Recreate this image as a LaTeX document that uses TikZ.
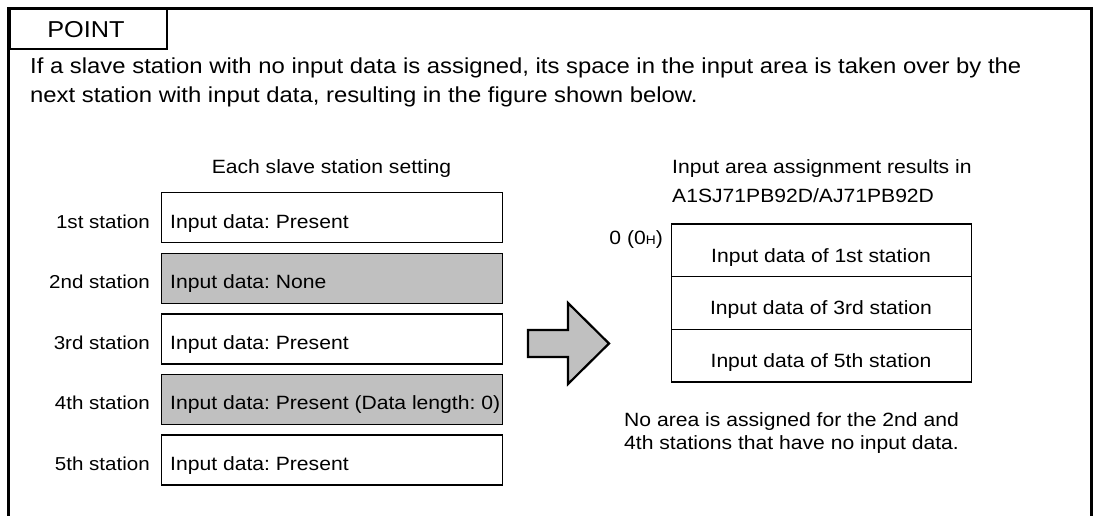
\documentclass[tikz,border=0pt]{standalone}
\usepackage{fontspec}
\setmainfont[FakeStretch=1.1]{Liberation Sans}
\definecolor{boxgray}{HTML}{C0C0C0}
\frenchspacing
\begin{document}
\begin{tikzpicture}[x=1pt,y=-1pt,
  txt/.style={font=\fontsize{19.2}{22}\selectfont, inner sep=0pt, anchor=base west},
  labtxt/.style={font=\fontsize{18.7}{22}\selectfont, inner sep=0pt, anchor=base east},
  bigtxt/.style={font=\fontsize{21.7}{25}\selectfont, inner sep=0pt, anchor=base west},
  sbox/.style={draw, line width=1.3pt, minimum width=341pt, minimum height=50pt, anchor=north west, inner sep=0pt},
  grayfill/.style={fill=boxgray},
  rowbox/.style={draw, line width=1.4pt, minimum width=300pt, minimum height=52.7pt, anchor=north west, inner sep=0pt},
  frameline/.style={line width=3pt},
  tabline/.style={line width=2pt},
  bigarrow/.style={draw, line width=2.2pt, fill=boxgray, line join=miter}]
\useasboundingbox (0,0) rectangle (1101,516);
% outer frame
\coordinate (fbl) at (8.5,516);
\coordinate (ftl) at (8.5,8.5);
\coordinate (ftr) at (1091,8.5);
\coordinate (fbr) at (1091,516);
\draw[frameline] (fbl) -- (ftl) -- (ftr) -- (fbr);
% POINT tab
\node[draw, tabline, anchor=north west, minimum width=157.5pt, minimum height=39.5pt, inner sep=0pt] (tab) at (8.5,8.5) {};
\node[font=\fontsize{23}{26}\selectfont, inner sep=0pt, anchor=base] (point) at (86,37.3) {POINT};
% paragraph
\node[bigtxt] (p1) at (30,74) {If a slave station with no input data is assigned, its space in the input area is taken over by the};
\node[bigtxt] (p2) at (30,102.5) {next station with input data, resulting in the figure shown below.};
% left column
\node[txt, anchor=base] (lhead) at (331.5,174) {Each slave station setting};
\foreach \i/\lab/\txt/\sty in {1/1st station/Input data: Present/,
                               2/2nd station/Input data: None/grayfill,
                               3/3rd station/Input data: Present/,
                               4/4th station/Input data: Present (Data length: 0)/grayfill,
                               5/5th station/Input data: Present/} {
  \pgfmathsetmacro{\top}{192+60.6*(\i-1)}
  \node[sbox, \sty] (b\i) at (161,\top) {};
  \node[txt] (t\i) at (170,\top+36) {\txt};
  \node[labtxt] (s\i) at (150,\top+36) {\lab};
}
% arrow
\coordinate (a1) at (528,330);
\coordinate (a2) at (568,330);
\coordinate (a3) at (568,303);
\coordinate (a4) at (609,343.5);
\coordinate (a5) at (568,384);
\coordinate (a6) at (568,357);
\coordinate (a7) at (528,357);
\draw[bigarrow] (a1) -- (a2) -- (a3) -- (a4) -- (a5) -- (a6) -- (a7) -- cycle;
% right column
\node[txt] (rhead1) at (672,174) {Input area assignment results in};
\node[txt] (rhead2) at (672,203) {A1SJ71PB92D/AJ71PB92D};
\node[txt, anchor=base east] (addr) at (663,244) {0 (0{\fontsize{12.5}{14}\selectfont H})};
\foreach \i/\txt in {1/1st, 2/3rd, 3/5th} {
  \pgfmathsetmacro{\top}{223.3+52.7*(\i-1)}
  \node[rowbox] (r\i) at (671,\top) {};
  \node[txt, anchor=base] (rt\i) at (821,\top+38.7) {Input data of \txt\ station};
}
\node[txt] (n1) at (624,426) {No area is assigned for the 2nd and};
\node[txt] (n2) at (624,449.5) {4th stations that have no input data.};
\end{tikzpicture}
\end{document}
